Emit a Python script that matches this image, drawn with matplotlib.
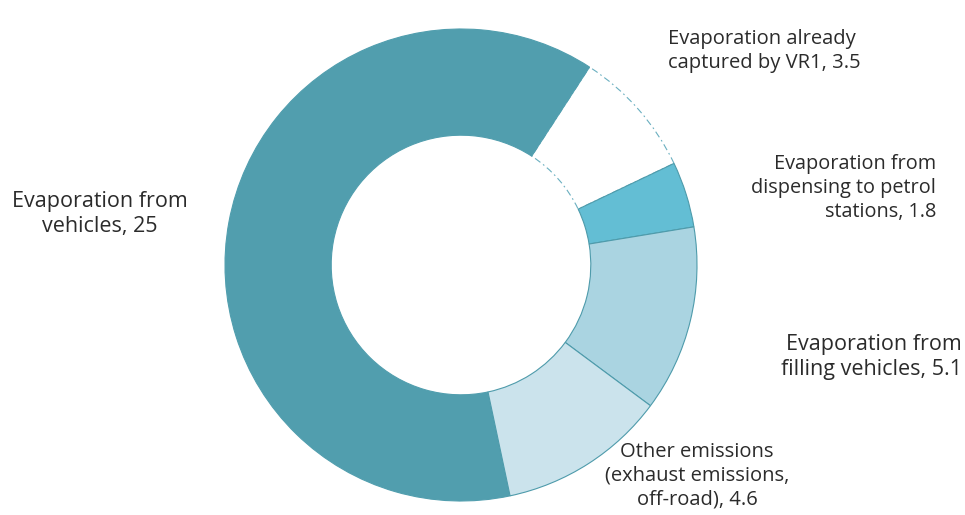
import matplotlib
matplotlib.use("Agg")
import matplotlib.pyplot as plt

labels = ["Evaporation from\nvehicles, 25",
          "Evaporation already\ncaptured by VR1, 3.5",
          "Evaporation from\ndispensing to petrol\nstations, 1.8",
          "Evaporation from\nfilling vehicles, 5.1",
          "Other emissions\n(exhaust emissions,\noff-road), 4.6"]
values = [25, 3.5, 1.8, 5.1, 4.6]
colors = ["#519EAE", "#FFFFFF", "#63BED4", "#AAD4E1", "#CBE3EC"]

W, H = 965, 515
fig = plt.figure(figsize=(W / 100, H / 100), dpi=100)
ax = fig.add_axes([0, 0, 1, 1])

cx, cy, R = 461, H - 265, 236
startangle = 57 + values[0] / sum(values) * 360
wedges, _ = ax.pie(values, colors=colors, startangle=startangle, counterclock=False,
                   center=(cx, cy), radius=R, frame=True,
                   wedgeprops=dict(width=R * 0.45, edgecolor="#4E9BAB", linewidth=0.8))
ax.set_xlim(0, W)
ax.set_ylim(0, H)
ax.set_aspect("equal")
ax.axis("off")
wedges[0].set_edgecolor("#519EAE")
wedges[1].set_linestyle((0, (6, 3, 1.5, 3)))
wedges[1].set_edgecolor("#6AAFC0")
wedges[1].set_zorder(0.5)

fam = ["Open Sans", "DejaVu Sans"]
col = "#2b2b2b"
ax.text(100, H - 214, labels[0], ha="center", va="center", fontsize=15.5, family=fam, color=col, linespacing=1.25)
ax.text(668, H - 51, labels[1], ha="left", va="center", fontsize=14.5, family=fam, color=col, linespacing=1.25)
ax.text(936, H - 188, labels[2], ha="right", va="center", fontsize=14.3, family=fam, color=col, linespacing=1.25, multialignment="right")
ax.text(962, H - 357, labels[3], ha="right", va="center", fontsize=15.5, family=fam, color=col, linespacing=1.25, multialignment="right")
ax.text(697, H - 476, labels[4], ha="center", va="center", fontsize=14.5, family=fam, color=col, linespacing=1.25)

fig.savefig("out.png", dpi=100, facecolor="white")
